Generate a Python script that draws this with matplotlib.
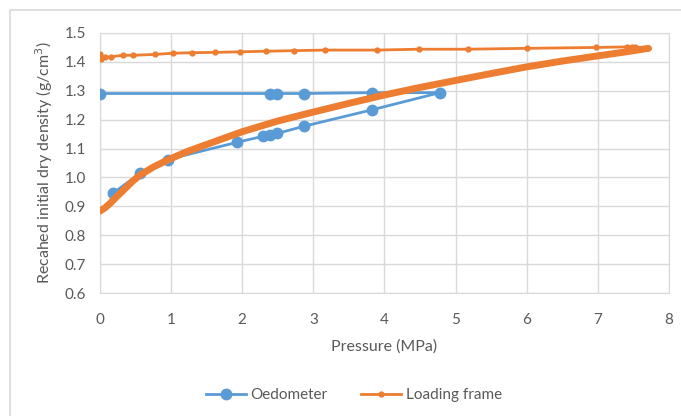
import matplotlib

matplotlib.use("Agg")
import matplotlib.pyplot as plt
from matplotlib.patches import Rectangle

# Oedometer: loading then unloading
oedo_p = [0.18, 0.56, 0.95, 1.92, 2.29, 2.39, 2.49, 2.87, 3.83, 4.78,
          3.83, 2.87, 2.49, 2.39, 0.0]
oedo_rho = [0.945, 1.014, 1.062, 1.121, 1.142, 1.146, 1.152, 1.177, 1.234, 1.293,
            1.293, 1.290, 1.290, 1.290, 1.290]

# Loading frame: dense loading branch (thick)
load_p = [0.0, 0.07, 0.14, 0.22, 0.33, 0.45, 0.56, 0.75, 0.95, 1.2, 1.41, 1.75, 2.0,
          2.5, 3.0, 3.5, 4.0, 4.5, 5.0, 5.5, 6.0, 6.5, 7.0, 7.4, 7.71]
load_rho = [0.884, 0.895, 0.910, 0.930, 0.956, 0.985, 1.008, 1.036, 1.060, 1.087,
            1.106, 1.136, 1.158, 1.195, 1.226, 1.256, 1.285, 1.311, 1.335, 1.359,
            1.382, 1.402, 1.420, 1.434, 1.446]

# Loading frame: unloading branch (thin with markers)
unl_p = [7.71, 7.52, 7.48, 7.41, 6.97, 6.0, 5.17, 4.49, 3.90, 3.17, 2.73, 2.33,
         1.97, 1.62, 1.30, 1.02, 0.77, 0.47, 0.32, 0.16, 0.07, 0.01, 0.0]
unl_rho = [1.446, 1.451, 1.451, 1.451, 1.449, 1.446, 1.443, 1.443, 1.440, 1.440,
           1.438, 1.436, 1.434, 1.432, 1.431, 1.429, 1.425, 1.422, 1.422, 1.417,
           1.415, 1.410, 1.427]

BLUE = "#5B9BD5"
ORANGE = "#ED7D31"
GRID = "#D9D9D9"
TXT = "#595959"

plt.rcParams["font.family"] = ["Lato", "DejaVu Sans"]

fig = plt.figure(figsize=(6.81, 4.16), dpi=100)
ax = fig.add_axes([0.1468, 0.295, 0.9824 - 0.1468, 0.9214 - 0.295])

ax.plot(oedo_p, oedo_rho, color=BLUE, lw=2, marker="o", ms=7.5,
        label="Oedometer", zorder=3)
ax.plot(load_p, load_rho, color=ORANGE, lw=5, solid_capstyle="round", zorder=4)
ax.plot(unl_p, unl_rho, color=ORANGE, lw=2, marker="o", ms=3.5,
        label="Loading frame", zorder=4)

ax.set_xlim(0, 8)
ax.set_ylim(0.6, 1.5)
ax.set_xticks(range(0, 9))
ax.set_yticks([0.6 + 0.1 * i for i in range(10)])
ax.set_yticklabels([f"{0.6 + 0.1 * i:.1f}" for i in range(10)])
ax.grid(True, color=GRID, lw=1)
ax.set_axisbelow(True)
for s in ax.spines.values():
    s.set_color(GRID)
ax.tick_params(length=0, colors=TXT, labelsize=11)
ax.tick_params(axis="x", pad=14)
ax.tick_params(axis="y", pad=10)

ax.set_xlabel("Pressure (MPa)", color=TXT, fontsize=11.5, labelpad=9)
ax.set_ylabel("Recahed initial dry density (g/cm$^3$)", color=TXT, fontsize=11.5,
              labelpad=7)

fig.legend(loc="center", bbox_to_anchor=(0.52, 0.05), ncol=2, frameon=False,
           fontsize=11, labelcolor=TXT, handlelength=2.6, columnspacing=2.2,
           handletextpad=0.3)

# outer chart frame (partly cropped on the right and bottom)
fig.patches.append(Rectangle((10 / 681, -0.1), 1.2, 1 - 10 / 416 + 0.1,
                             transform=fig.transFigure, fill=False,
                             edgecolor=GRID, lw=1.2))

fig.savefig("out.png", dpi=100)
